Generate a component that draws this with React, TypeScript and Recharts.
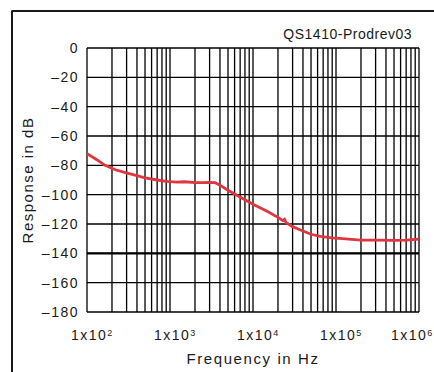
import { LineChart, Line, XAxis, YAxis, CartesianGrid, ReferenceLine } from "recharts";

// frequency (Hz) and response (dB)
const freqs = [
  100, 130, 165, 220, 290, 400, 500, 700, 900, 1200, 1500, 2000, 2500, 3000, 3500,
  4000, 5000, 6000, 8000, 10000, 15000, 20000, 23000, 24000, 25000, 30000, 40000, 50000, 65000,
  90000, 120000, 200000, 300000, 500000, 700000, 1000000,
];
const response = [
  -72, -76, -80, -83, -85, -87, -88.5, -90, -91, -91.5, -91.2, -91.8, -91.8, -91.6, -91.8,
  -93.5, -97, -99.5, -103.5, -106.5, -111.5, -115.5, -117.8, -116.8, -119, -121.8, -124.8, -127, -128.5,
  -129.5, -130, -131, -131, -131.2, -131, -130.3,
];

const decades = [100, 1000, 10000, 100000, 1000000];
const minorSteps = [1, 2, 3, 4, 5, 6, 7, 8, 9];
const yTicks = [-180, -160, -140, -120, -100, -80, -60, -40, -20, 0];

const title = "QS1410-Prodrev03";
const xTitle = "Frequency in Hz";
const yTitle = "Response in dB";

const data = freqs.map((f, i) => ({ f, db: response[i] }));

// grid lines at 1..9 x each decade, labels only on decades
const xTicks = decades.flatMap((d, i) =>
  i === decades.length - 1 ? [d] : minorSteps.map((m) => m * d)
);

const W = 434;
const H = 372;
const FONT = '"Liberation Sans", Arial, Helvetica, sans-serif';
const INK = "#1a1a1a";

const XTick = (props: any) => {
  const { x, y, payload } = props;
  const v = payload.value as number;
  if (!decades.includes(v)) return <g />;
  const exp = Math.round(Math.log10(v));
  const labelW = 43;
  const left = Math.min(x - 16, W - labelW);
  return (
    <text x={left} y={y + 26} fontFamily={FONT} fontSize={14} fill={INK} letterSpacing={1.5}>
      <tspan>1x10</tspan>
      <tspan dy={-4} fontSize={9}>{exp}</tspan>
    </text>
  );
};

const fmtY = (v: number) => (v < 0 ? `\u2013${Math.abs(v)}` : `${v}`);

export default function App() {
  return (
    <div style={{ position: "absolute", left: 0, top: 0, width: W, height: H, background: "#fff", overflow: "hidden" }}>
      <div
        style={{
          position: "absolute",
          left: 11,
          top: 10,
          width: W,
          height: H,
          borderTop: `2px solid ${INK}`,
          borderLeft: `2px solid ${INK}`,
          borderTopLeftRadius: 2,
        }}
      />
      <div
        style={{
          position: "absolute",
          left: 0,
          top: 27,
          width: 412,
          textAlign: "right",
          fontFamily: FONT,
          fontSize: 14,
          lineHeight: "14px",
          letterSpacing: 0.5,
          color: INK,
        }}
      >
        {title}
      </div>
      <div style={{ position: "absolute", left: 0, top: 0 }}>
        <LineChart width={W} height={H} data={data} margin={{ top: 48, right: 15, bottom: 0, left: 0 }}>
          <CartesianGrid stroke="#000" strokeWidth={1.3} />
          <XAxis
            dataKey="f"
            type="number"
            scale="log"
            domain={[100, 1000000]}
            ticks={xTicks}
            interval={0}
            allowDataOverflow
            axisLine={false}
            tickLine={false}
            tickSize={0}
            height={60}
            tick={<XTick />}
            label={{
              value: xTitle,
              position: "insideBottom",
              offset: 8,
              style: { fontFamily: FONT, fontSize: 15, fill: INK, letterSpacing: 1.6 },
            }}
          />
          <YAxis
            type="number"
            domain={[-180, 0]}
            ticks={yTicks}
            interval={0}
            width={87}
            axisLine={false}
            tickLine={false}
            tickSize={0}
            tickMargin={8}
            tickFormatter={fmtY}
            tick={{ fontFamily: FONT, fontSize: 14, fill: INK, letterSpacing: 1.5 }}
            label={{
              value: yTitle,
              angle: -90,
              position: "insideLeft",
              offset: 28,
              style: { fontFamily: FONT, fontSize: 15, fill: INK, letterSpacing: 1.5, textAnchor: "middle" },
            }}
          />
          <ReferenceLine y={-140} stroke="#000" strokeWidth={2.4} />
          <Line
            type="linear"
            dataKey="db"
            stroke="#e0363f"
            strokeWidth={2.8}
            dot={false}
            isAnimationActive={false}
          />
        </LineChart>
      </div>
    </div>
  );
}
